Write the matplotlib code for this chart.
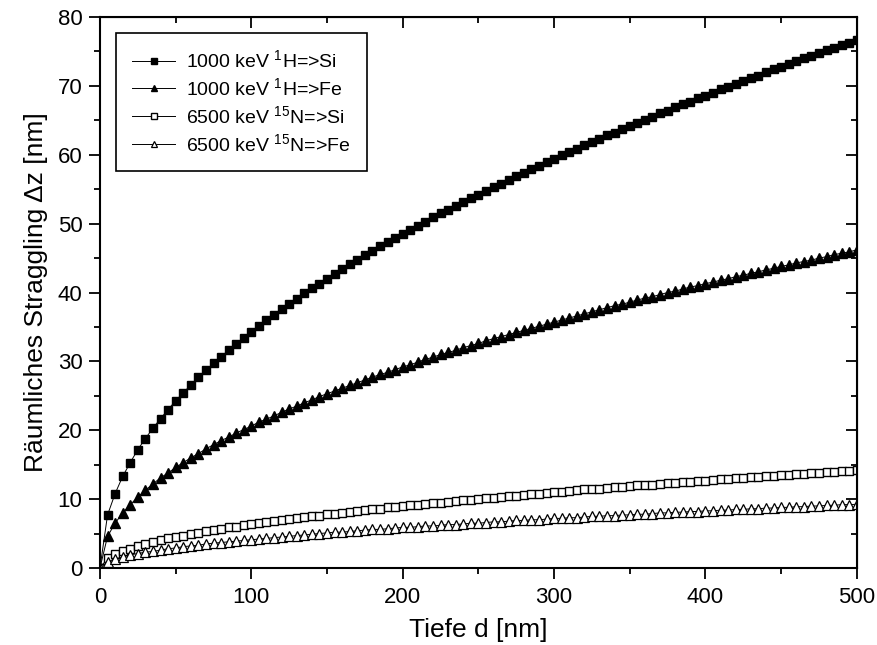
import numpy as np
import matplotlib
matplotlib.use('Agg')
import matplotlib.pyplot as plt
from matplotlib.ticker import MultipleLocator

plt.rcParams['font.family'] = ['Liberation Sans', 'DejaVu Sans']
plt.rcParams['mathtext.fontset'] = 'custom'
plt.rcParams['mathtext.rm'] = 'Liberation Sans'
plt.rcParams['mathtext.it'] = 'Liberation Sans:italic'

# depth in nm, one point every 5 nm
depth = list(range(0, 505, 5))

h_si = [0.0, 7.7, 10.8, 13.3, 15.3, 17.2, 18.8, 20.3, 21.7, 23.0,
        24.3, 25.4, 26.6, 27.7, 28.7, 29.7, 30.7, 31.6, 32.5, 33.4,
        34.3, 35.2, 36.0, 36.8, 37.6, 38.4, 39.1, 39.9, 40.6, 41.3,
        42.0, 42.7, 43.4, 44.1, 44.7, 45.4, 46.0, 46.7, 47.3, 47.9,
        48.5, 49.1, 49.7, 50.3, 50.9, 51.5, 52.0, 52.6, 53.1, 53.7,
        54.2, 54.8, 55.3, 55.8, 56.4, 56.9, 57.4, 57.9, 58.4, 58.9,
        59.4, 59.9, 60.4, 60.9, 61.4, 61.8, 62.3, 62.8, 63.2, 63.7,
        64.2, 64.6, 65.1, 65.5, 66.0, 66.4, 66.9, 67.3, 67.7, 68.2,
        68.6, 69.0, 69.5, 69.9, 70.3, 70.7, 71.1, 71.5, 72.0, 72.4,
        72.8, 73.2, 73.6, 74.0, 74.4, 74.8, 75.2, 75.5, 75.9, 76.3,
        76.7]

h_fe = [0.0, 4.6, 6.5, 8.0, 9.2, 10.3, 11.3, 12.2, 13.1, 13.8,
        14.6, 15.3, 16.0, 16.6, 17.3, 17.9, 18.5, 19.0, 19.6, 20.1,
        20.6, 21.2, 21.6, 22.1, 22.6, 23.1, 23.5, 24.0, 24.4, 24.9,
        25.3, 25.7, 26.1, 26.5, 26.9, 27.3, 27.7, 28.1, 28.4, 28.8,
        29.2, 29.5, 29.9, 30.3, 30.6, 31.0, 31.3, 31.6, 32.0, 32.3,
        32.6, 33.0, 33.3, 33.6, 33.9, 34.2, 34.5, 34.8, 35.1, 35.4,
        35.7, 36.0, 36.3, 36.6, 36.9, 37.2, 37.5, 37.8, 38.1, 38.3,
        38.6, 38.9, 39.2, 39.4, 39.7, 40.0, 40.2, 40.5, 40.8, 41.0,
        41.3, 41.5, 41.8, 42.0, 42.3, 42.5, 42.8, 43.0, 43.3, 43.5,
        43.8, 44.0, 44.3, 44.5, 44.7, 45.0, 45.2, 45.5, 45.7, 45.9,
        46.2]

n_si = [0.0, 1.4, 2.0, 2.5, 2.8, 3.2, 3.5, 3.8, 4.0, 4.3,
        4.5, 4.7, 4.9, 5.1, 5.3, 5.5, 5.7, 5.9, 6.0, 6.2,
        6.4, 6.5, 6.7, 6.8, 7.0, 7.1, 7.2, 7.4, 7.5, 7.6,
        7.8, 7.9, 8.0, 8.2, 8.3, 8.4, 8.5, 8.6, 8.8, 8.9,
        9.0, 9.1, 9.2, 9.3, 9.4, 9.5, 9.6, 9.7, 9.8, 9.9,
        10.0, 10.1, 10.2, 10.3, 10.4, 10.5, 10.6, 10.7, 10.8, 10.9,
        11.0, 11.1, 11.2, 11.3, 11.4, 11.4, 11.5, 11.6, 11.7, 11.8,
        11.9, 12.0, 12.0, 12.1, 12.2, 12.3, 12.4, 12.5, 12.5, 12.6,
        12.7, 12.8, 12.9, 12.9, 13.0, 13.1, 13.2, 13.2, 13.3, 13.4,
        13.5, 13.5, 13.6, 13.7, 13.8, 13.8, 13.9, 14.0, 14.1, 14.1,
        14.2]

n_fe = [0.0, 0.9, 1.3, 1.6, 1.9, 2.1, 2.3, 2.4, 2.6, 2.8,
        2.9, 3.1, 3.2, 3.3, 3.5, 3.6, 3.7, 3.8, 3.9, 4.0,
        4.1, 4.2, 4.3, 4.4, 4.5, 4.6, 4.7, 4.8, 4.9, 5.0,
        5.1, 5.2, 5.2, 5.3, 5.4, 5.5, 5.6, 5.6, 5.7, 5.8,
        5.9, 5.9, 6.0, 6.1, 6.1, 6.2, 6.3, 6.3, 6.4, 6.5,
        6.5, 6.6, 6.7, 6.7, 6.8, 6.9, 6.9, 7.0, 7.0, 7.1,
        7.2, 7.2, 7.3, 7.3, 7.4, 7.5, 7.5, 7.6, 7.6, 7.7,
        7.7, 7.8, 7.8, 7.9, 8.0, 8.0, 8.1, 8.1, 8.2, 8.2,
        8.3, 8.3, 8.4, 8.4, 8.5, 8.5, 8.6, 8.6, 8.7, 8.7,
        8.8, 8.8, 8.9, 8.9, 9.0, 9.0, 9.1, 9.1, 9.2, 9.2,
        9.25]

labels = ['1000 keV $^{1}$H=>Si', '1000 keV $^{1}$H=>Fe',
          '6500 keV $^{15}$N=>Si', '6500 keV $^{15}$N=>Fe']

fig = plt.figure(figsize=(8.77, 6.45), dpi=100)
ax = fig.add_axes([0.114, 0.1194, 0.863, 0.8542])

ax.plot(depth, h_si, '-', color='black', lw=0.7, marker='s', ms=5.5,
        mfc='black', mec='black', label=labels[0])
ax.plot(depth, h_fe, '-', color='black', lw=0.7, marker='^', ms=6.5,
        mfc='black', mec='black', label=labels[1])
ax.plot(depth, n_si, '-', color='black', lw=0.7, marker='s', ms=5.5,
        mfc='white', mec='black', mew=1.0, label=labels[2])
ax.plot(depth, n_fe, '-', color='black', lw=0.7, marker='^', ms=6.5,
        mfc='white', mec='black', mew=0.9, label=labels[3])

ax.set_xlim(0, 500)
ax.set_ylim(0, 80)
ax.xaxis.set_major_locator(MultipleLocator(100))
ax.xaxis.set_minor_locator(MultipleLocator(50))
ax.yaxis.set_major_locator(MultipleLocator(10))
ax.yaxis.set_minor_locator(MultipleLocator(5))
ax.tick_params(which='major', direction='out', length=8, width=1.3,
               labelsize=16)
ax.tick_params(which='minor', direction='out', length=4.5, width=1.3)
ax.tick_params(axis='x', pad=6)
ax.tick_params(axis='y', pad=4.5)
for s in ax.spines.values():
    s.set_linewidth(1.5)

# inward ticks on top and right, no labels
top = ax.secondary_xaxis('top')
top.xaxis.set_major_locator(MultipleLocator(100))
top.xaxis.set_minor_locator(MultipleLocator(50))
top.tick_params(which='major', direction='in', length=8, width=1.3, labeltop=False)
top.tick_params(which='minor', direction='in', length=4.5, width=1.3)
right = ax.secondary_yaxis('right')
right.yaxis.set_major_locator(MultipleLocator(10))
right.yaxis.set_minor_locator(MultipleLocator(5))
right.tick_params(which='major', direction='in', length=8, width=1.3, labelright=False)
right.tick_params(which='minor', direction='in', length=4.5, width=1.3)

ax.set_xlabel('Tiefe d [nm]', fontsize=19, labelpad=7)
ax.set_ylabel('Räumliches Straggling Δz [nm]', fontsize=19, labelpad=7)

leg = ax.legend(loc='upper left', bbox_to_anchor=(0.021, 0.971), fontsize=14,
                numpoints=1, markerscale=0.75, handlelength=2.2,
                handletextpad=0.55, labelspacing=0.3, borderpad=0.85,
                fancybox=False, framealpha=1, edgecolor='black',
                borderaxespad=0)
leg.get_frame().set_linewidth(1.2)

fig.savefig('out.png', dpi=100)
